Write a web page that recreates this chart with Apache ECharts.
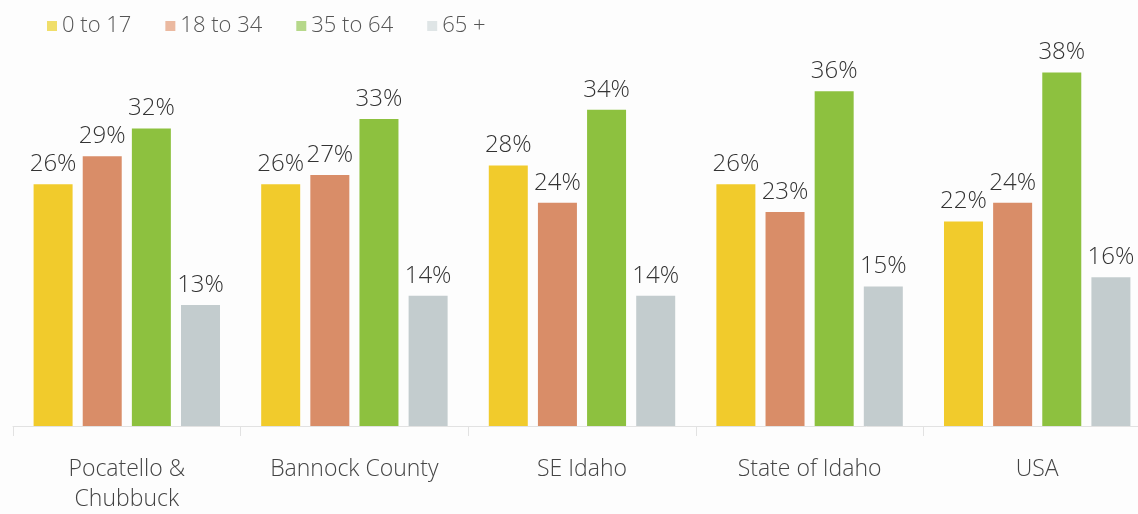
<!DOCTYPE html>
<html>
<head>
<meta charset="utf-8">
<script src="https://cdn.jsdelivr.net/npm/echarts@6/dist/echarts.min.js"></script>
<style>
  html, body { margin: 0; padding: 0; background: #fdfdfd; overflow: hidden; }
  #chart { width: 1152px; height: 514px; }
</style>
</head>
<body>
<div id="chart"></div>
<script>
const regions = ['Pocatello &\nChubbuck', 'Bannock County', 'SE Idaho', 'State of Idaho', 'USA']
const age0to17 = [26, 26, 28, 26, 22]
const age18to34 = [29, 27, 24, 23, 24]
const age35to64 = [32, 33, 34, 36, 38]
const age65plus = [13, 14, 14, 15, 16]

const seriesDefs = [
	{ name: '0 to 17', data: age0to17, color: '#f1cb2c', legendColor: '#f0de6a' },
	{ name: '18 to 34', data: age18to34, color: '#d98d68', legendColor: '#ebb9a0' },
	{ name: '35 to 64', data: age35to64, color: '#8dc13f', legendColor: '#b6d88a' },
	{ name: '65 +', data: age65plus, color: '#c3ccce', legendColor: '#dfe5e6' },
]

const chart = echarts.init(document.getElementById('chart'))

const option = {
	backgroundColor: '#fdfdfd',
	textStyle: { fontFamily: 'Open Sans' },
	legend: {
		left: 42,
		top: 10,
		itemWidth: 10,
		itemHeight: 10,
		itemGap: 34,
		icon: 'rect',
		textStyle: { color: '#555', fontSize: 22, fontWeight: 300, fontFamily: 'Open Sans' },
		data: seriesDefs.map((s) => ({ name: s.name, itemStyle: { color: s.legendColor } })),
	},
	grid: { left: 13, right: 1, top: 54, bottom: 80 },
	xAxis: {
		type: 'category',
		data: regions,
		axisLine: { lineStyle: { color: '#e2e2e2' } },
		axisTick: { show: true, length: 10, lineStyle: { color: '#e2e2e2' } },
		axisLabel: { color: '#444', fontSize: 23, fontWeight: 300, margin: 28, lineHeight: 30 },
	},
	yAxis: {
		type: 'value',
		min: 0,
		max: 40,
		show: false,
		splitLine: { show: false },
	},
	series: seriesDefs.map((s) => ({
		name: s.name,
		type: 'bar',
		data: s.data,
		barWidth: 39,
		barGap: '26%',
		itemStyle: { color: s.color },
		label: {
			show: true,
			position: 'top',
			distance: 8,
			formatter: '{c}%',
			color: '#333',
			fontSize: 24,
			fontWeight: 300,
		},
	})),
}

chart.setOption(option)
</script>
</body>
</html>
